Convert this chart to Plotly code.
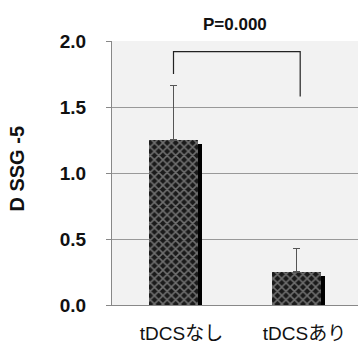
import plotly.graph_objects as go

categories = ["tDCSなし", "tDCSあり"]
values = [1.25, 0.25]
errors = [0.41, 0.18]
y_ticks = [0.0, 0.5, 1.0, 1.5, 2.0]
y_tick_labels = ["0.0", "0.5", "1.0", "1.5", "2.0"]
p_label = "P=0.000"
y_title = "D SSG -5"

xpos = list(range(len(categories)))
FONT = "Liberation Sans, Noto Sans CJK JP"
JP = "Liberation Sans, Noto Sans CJK JP"

W = 0.40
fig = go.Figure()
# shadow
fig.add_trace(go.Bar(
    x=xpos, y=values, base=[-0.03] * len(values), width=W, offset=-W / 2 + 0.035,
    marker=dict(color="#000000", line=dict(width=0)), hoverinfo="skip", showlegend=False))
# patterned bars
fig.add_trace(go.Bar(
    x=xpos, y=values, width=W, offset=-W / 2,
    marker=dict(color="#1a1a1a", line=dict(width=0),
                pattern=dict(shape="x", fgcolor="#c4c4c4", bgcolor="#1a1a1a", size=6, solidity=0.45)),
    error_y=dict(type="data", symmetric=False, array=errors, arrayminus=[0] * len(errors),
                 color="#555555", thickness=1.2, width=3.5),
    showlegend=False))

# significance bracket
fig.add_shape(type="path", xref="x", yref="y",
              path="M 0,1.75 L 0,1.92 L 1.03,1.92 L 1.03,1.58",
              line=dict(color="#222222", width=1.2))

fig.add_annotation(text=p_label, xref="paper", yref="paper", x=0.5, y=1.0, yshift=17,
                   showarrow=False, font=dict(family=FONT, size=17, color="#111111", weight="bold"),
                   xanchor="center", yanchor="middle")
fig.add_annotation(text=y_title, xref="paper", yref="paper", x=-0.384, y=0.515,
                   showarrow=False, textangle=-90,
                   font=dict(family=FONT, size=20, color="#111111", weight="bold"),
                   xanchor="center", yanchor="middle")

fig.update_layout(
    width=358, height=347,
    margin=dict(l=112, r=0, t=41, b=42),
    paper_bgcolor="white", plot_bgcolor="#f2f2f2",
    barmode="overlay", bargap=0,
    xaxis=dict(range=[-0.5, 1.5], tickvals=xpos, ticktext=categories, showgrid=False,
               showline=True, linecolor="#888888", linewidth=1, ticks="", zeroline=False,
               tickfont=dict(family=JP, size=19, color="#111111"), ticklabelstandoff=11,
               ticklabelshift=8, fixedrange=True, automargin=False),
    yaxis=dict(range=[0, 2.0], tickvals=y_ticks, ticktext=y_tick_labels, showgrid=True,
               gridcolor="#999999", gridwidth=1, showline=True, linecolor="#888888", linewidth=1,
               ticks="outside", ticklen=5, tickcolor="#888888", zeroline=False,
               tickfont=dict(family=FONT, size=19, color="#111111", weight="bold"),
               ticklabelstandoff=16, fixedrange=True, automargin=False),
)

fig.write_html("out.html", config={"displayModeBar": False},
               post_script="document.body.style.margin='0';document.body.style.overflow='hidden';")
